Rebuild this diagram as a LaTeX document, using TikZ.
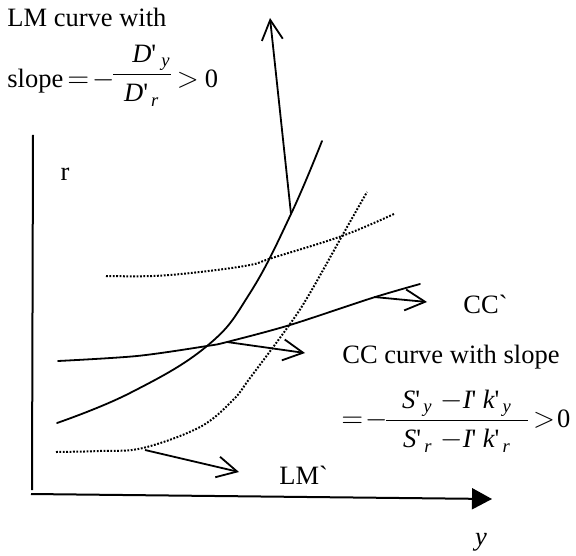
\documentclass[tikz,border=0pt]{standalone}
\usepackage{fontspec}
\setmainfont{Liberation Serif}
\usepackage{amsmath}
\usetikzlibrary{arrows.meta}
\newcommand\myap{\mbox{\textquotesingle}}
\newcommand\iv[1]{\textit{#1}}
\tikzset{
  every node/.style={font=\fontsize{13.25}{16}\selectfont, inner sep=0pt},
  curve/.style={line width=0.9pt, line join=round, line cap=round},
  dots/.style={line width=1pt, dash pattern=on 0.9pt off 0.8pt},
  barb/.style={line width=0.9pt, -{Straight Barb[length=10pt,width=10.5pt,line width=0.9pt]}},
  axis/.style={line width=1pt},
}
\begin{document}
\begin{tikzpicture}[x=0.5pt,y=-0.5pt]
\useasboundingbox (0,0) rectangle (576,555);
% axes
\coordinate (yaxtop) at (33,135);
\coordinate (yaxbot) at (32,490);
\coordinate (origin) at (31,494);
\coordinate (xaxend) at (492,499);
\draw[axis] (yaxtop) -- (yaxbot);
\draw[axis, -{Triangle[length=10pt,width=10.5pt]}] (origin) -- (xaxend);
% LM curve
\draw[curve] plot[smooth, tension=0.7] coordinates {(57,423) (130,393) (207,346) (250,293) (291,214) (322,141)};
% LM' dotted
\draw[dots] plot[smooth, tension=0.6] coordinates {(56,452) (100,451) (143,448) (200,427) (233,400) (250,378) (290,324) (310,293) (342,236) (367,192)};
% CC' dotted
\draw[dots] plot[smooth, tension=0.6] coordinates {(106,276) (153,276) (200,272) (250,265) (272,258) (342,236) (394,214)};
% CC solid
\draw[curve] plot[smooth, tension=0.5] coordinates {(58,361) (137,356) (207,346) (227,342) (290,325) (372,298) (420,284)};
% arrows
\coordinate (lmbase) at (291,214);
\coordinate (lmtip) at (270,18);
\draw[barb] (lmbase) -- (lmtip);
\coordinate (ccA) at (227,342);
\coordinate (ccAtip) at (305,353);
\draw[barb] (ccA) -- (ccAtip);
\coordinate (ccB) at (374,297);
\coordinate (ccBtip) at (427,302);
\draw[barb] (ccB) -- (ccBtip);
\coordinate (lmA) at (145,450);
\coordinate (lmAtip) at (239,472);
\draw[barb] (lmA) -- (lmAtip);
% labels
\node[anchor=base west] (lmtitle) at (7,27) {LM curve with};
\node[anchor=base west] (lmslope) at (7,88) {slope\kern2pt$=$\kern1.5pt$-$\kern-2pt\raisebox{3pt}{$\dfrac{\mkern12mu\iv{D}\myap_{\mkern5mu\iv{y}}}{\iv{D}\myap_{\mkern3mu\iv{r}}}$}\kern2pt$>$\kern3pt0};
\node[anchor=base] (rlabel) at (65,181) {r};
\node[anchor=base west] (lmprime) at (279,484) {LM\textasciigrave};
\node[anchor=base west] (ccprime) at (463,313) {CC\textasciigrave};
\node[anchor=base west] (cctext) at (342,363) {CC curve with slope};
\node[anchor=west] (ccslope) at (341,421) {$=$\kern1pt$-$\kern-2pt$\dfrac{\mkern10mu\iv{S}\myap_{\mkern3mu\iv{y}}\mkern5mu{-}\iv{I}\myap\mkern4mu\iv{k}\myap_{\mkern3mu\iv{y}}\mkern10mu}{\iv{S}\myap_{\mkern3mu\iv{r}}\mkern5mu{-}\iv{I}\myap\mkern4mu\iv{k}\myap_{\mkern3mu\iv{r}}}$\kern1.5pt$>$\kern1pt0};
\node[anchor=base] (ylabel) at (481,545) {\iv{y}};
\end{tikzpicture}
\end{document}
